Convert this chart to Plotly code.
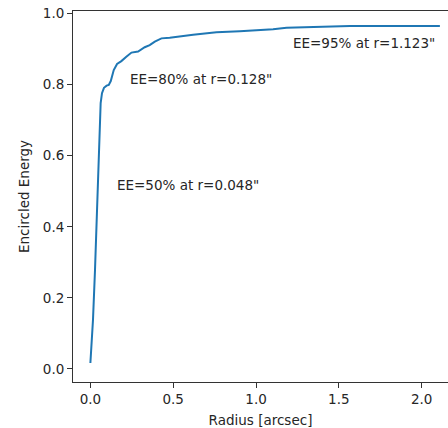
import plotly.graph_objects as go

radius = [0.0, 0.0157, 0.0278, 0.038, 0.044, 0.052, 0.056, 0.062, 0.070, 0.082,
          0.098, 0.111, 0.123, 0.141, 0.161, 0.187, 0.217, 0.248, 0.288, 0.328,
          0.358, 0.389, 0.429, 0.479, 0.62, 0.761, 0.902, 1.023, 1.103, 1.184,
          1.386, 1.567, 1.8, 2.11]
ee = [0.017, 0.138, 0.278, 0.419, 0.504, 0.596, 0.692, 0.748, 0.776, 0.791,
      0.797, 0.799, 0.81, 0.841, 0.858, 0.866, 0.878, 0.890, 0.893, 0.905,
      0.911, 0.921, 0.930, 0.932, 0.940, 0.947, 0.950, 0.953, 0.956, 0.960,
      0.963, 0.965, 0.965, 0.965]

ann_text = ['EE=50% at r=0.048"', 'EE=80% at r=0.128"', 'EE=95% at r=1.123"']
ann_x = [0.147, 0.227, 1.213]
ann_y = [0.518, 0.816, 0.918]

x_ticks = [0.0, 0.5, 1.0, 1.5, 2.0]
y_ticks = [0.0, 0.2, 0.4, 0.6, 0.8, 1.0]

FONT = "DejaVu Sans"
TXT = "#262626"
FS = 13.5

fig = go.Figure()
fig.add_trace(go.Scatter(x=radius, y=ee, mode="lines",
                         line=dict(color="#1f77b4", width=2), showlegend=False))

for t, x, y in zip(ann_text, ann_x, ann_y):
    fig.add_annotation(x=x, y=y, xref="x", yref="y", text=t, showarrow=False,
                       xanchor="left", yanchor="middle",
                       font=dict(family=FONT, size=FS, color=TXT))

axis_common = dict(showgrid=False, zeroline=False, showline=True, linecolor="#333333",
                   linewidth=1, ticks="outside", ticklen=5, tickwidth=1,
                   tickcolor="#333333", ticklabeloverflow="allow",
                   tickfont=dict(family=FONT, size=FS, color=TXT))

fig.update_layout(
    width=448, height=428,
    margin=dict(l=73, r=0, t=11, b=46),
    paper_bgcolor="white", plot_bgcolor="white",
    xaxis=dict(range=[-0.105, 2.159], tickvals=x_ticks,
               ticktext=[f"{v:.1f}" for v in x_ticks], mirror=True,
               title=dict(text="Radius [arcsec]", standoff=9,
                          font=dict(family=FONT, size=FS, color=TXT)),
               automargin=False, **axis_common),
    yaxis=dict(range=[-0.0366, 1.007], tickvals=y_ticks,
               ticktext=[f"{v:.1f}" for v in y_ticks], mirror=False,
               title=dict(text="Encircled Energy", standoff=10,
                          font=dict(family=FONT, size=FS, color=TXT)),
               automargin=False, **axis_common),
)

fig.write_html("out.html", config={"displayModeBar": False},
               post_script="document.body.style.margin='0';document.body.style.overflow='hidden';")
